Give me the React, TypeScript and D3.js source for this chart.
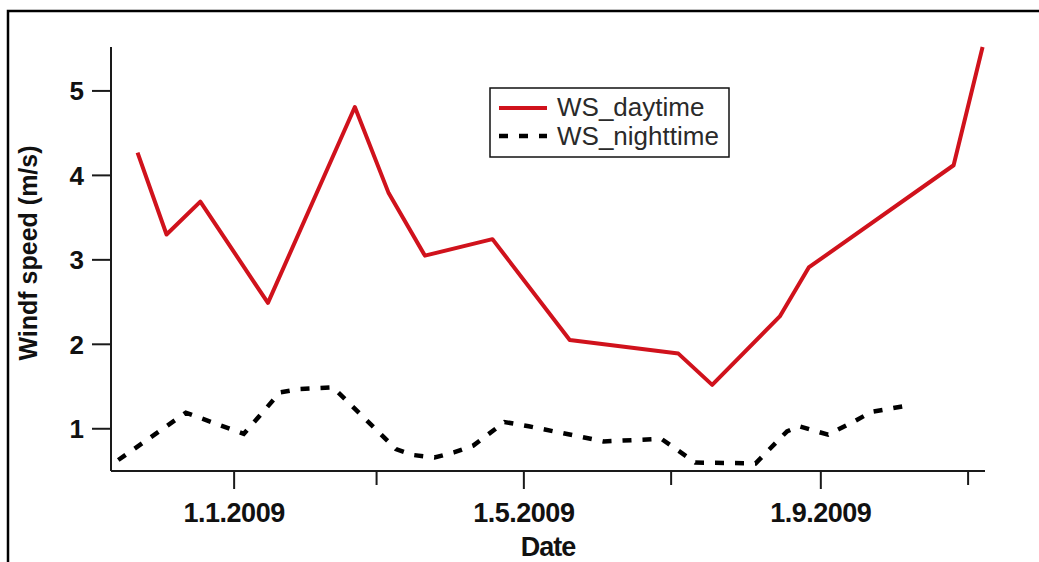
import React from "react";
import * as d3 from "d3";

// Mean wind speed per sampling date (m/s)
const dayDates = [
  "2008-11-22", "2008-12-04", "2008-12-18", "2009-01-15", "2009-02-20",
  "2009-03-06", "2009-03-21", "2009-04-18", "2009-05-20", "2009-07-04",
  "2009-07-18", "2009-08-15", "2009-08-27", "2009-10-26", "2009-11-07",
];
const dayValues = [4.27, 3.3, 3.69, 2.49, 4.81, 3.79, 3.05, 3.245, 2.05, 1.89, 1.52, 2.33, 2.91, 4.12, 5.52];

const nightDates = [
  "2008-11-14", "2008-12-12", "2009-01-05", "2009-01-20", "2009-01-28",
  "2009-02-11", "2009-03-09", "2009-03-16", "2009-03-25", "2009-04-02",
  "2009-04-10", "2009-04-23", "2009-05-03", "2009-06-03", "2009-06-11",
  "2009-06-27", "2009-07-11", "2009-08-05", "2009-08-18", "2009-08-23",
  "2009-09-04", "2009-09-15", "2009-09-22", "2009-09-30", "2009-10-08",
];
const nightValues = [
  0.63, 1.19, 0.94, 1.43, 1.47, 1.49, 0.76, 0.69, 0.66, 0.72, 0.8, 1.08, 1.03,
  0.85, 0.86, 0.88, 0.6, 0.59, 0.97, 1.03, 0.93, 1.09, 1.2, 1.24, 1.28,
];

const yTicks = [1, 2, 3, 4, 5];
const seriesNames = ["WS_daytime", "WS_nighttime"];
const xTitle = "Date";
const yTitle = "Windf speed (m/s)";

const W = 1039;
const H = 562;
const parse = d3.timeParse("%Y-%m-%d");
const fmt = d3.timeFormat("%-d.%-m.%Y");

export default function App() {
  const x = d3
    .scaleTime()
    .domain([parse("2008-11-11")!, parse("2009-11-08")!])
    .range([111, 985]);
  const y = d3.scaleLinear().domain([0.5, 5.52]).range([471, 47]);

  const day = dayDates.map((d, i) => ({ t: parse(d)!, v: dayValues[i] }));
  const night = nightDates.map((d, i) => ({ t: parse(d)!, v: nightValues[i] }));
  const line = d3
    .line<{ t: Date; v: number }>()
    .x((d) => x(d.t))
    .y((d) => y(d.v));

  const xTicks = x.ticks(d3.timeMonth.every(2)!);
  const [x0, x1] = x.range();
  const [y0, y1] = y.range();
  const font = "'Liberation Sans', Arial, sans-serif";
  const axisColor = "#1a1a1a";

  return (
    <svg
      width={W}
      height={H}
      style={{ position: "fixed", left: 0, top: 0, background: "#fff" }}
      fontFamily={font}
    >
      <rect x={0} y={0} width={W} height={H} fill="#fff" />
      {/* outer frame */}
      <rect x={8} y={11} width={W + 20} height={H + 20} fill="none" stroke="#000" strokeWidth={2.5} />

      {/* axes */}
      <line x1={x0} x2={x0} y1={y0} y2={y1} stroke={axisColor} strokeWidth={2} />
      <line x1={x0} x2={x1} y1={y0} y2={y0} stroke={axisColor} strokeWidth={2} />

      {yTicks.map((t) => (
        <g key={t}>
          <line x1={x0 - 19} x2={x0} y1={y(t)} y2={y(t)} stroke={axisColor} strokeWidth={2} />
          <text
            x={x0 - 27}
            y={y(t)}
            dy="0.36em"
            textAnchor="end"
            fontWeight="bold"
            fontSize={26}
            fill="#111"
          >
            {t}
          </text>
        </g>
      ))}

      {xTicks.map((t) => {
        const major = t.getMonth() % 4 === 0;
        return (
          <g key={t.getTime()}>
            <line
              x1={x(t)}
              x2={x(t)}
              y1={y0}
              y2={y0 + (major ? 18 : 14)}
              stroke={axisColor}
              strokeWidth={2}
            />
            {major && (
              <text
                x={x(t)}
                y={522}
                textAnchor="middle"
                fontWeight="bold"
                fontSize={27}
                letterSpacing={-0.5}
                fill="#111"
              >
                {fmt(t)}
              </text>
            )}
          </g>
        );
      })}

      <text
        x={(x0 + x1) / 2}
        y={556}
        textAnchor="middle"
        fontWeight="bold"
        fontSize={27}
        letterSpacing={-1}
        fill="#111"
      >
        {xTitle}
      </text>
      <text
        transform={`translate(37, ${(y0 + y1) / 2 - 6}) rotate(-90)`}
        textAnchor="middle"
        fontWeight="bold"
        fontSize={25}
        fill="#111"
      >
        {yTitle}
      </text>

      {/* series */}
      <path d={line(night) ?? ""} fill="none" stroke="#000" strokeWidth={4.5} strokeDasharray="9,11" />
      <path d={line(day) ?? ""} fill="none" stroke="#d0121c" strokeWidth={4} strokeLinejoin="round" />

      {/* legend */}
      <g>
        <rect x={490} y={88} width={239} height={69} fill="#fff" stroke="#111" strokeWidth={1.5} />
        <line x1={499} x2={547} y1={108} y2={108} stroke="#d0121c" strokeWidth={4} />
        <line x1={499} x2={547} y1={136} y2={136} stroke="#000" strokeWidth={4.5} strokeDasharray="9,11" />
        <text x={557} y={116} fontSize={26} fill="#2a2a2a">
          {seriesNames[0]}
        </text>
        <text x={557} y={145} fontSize={26} fill="#2a2a2a">
          {seriesNames[1]}
        </text>
      </g>
    </svg>
  );
}
